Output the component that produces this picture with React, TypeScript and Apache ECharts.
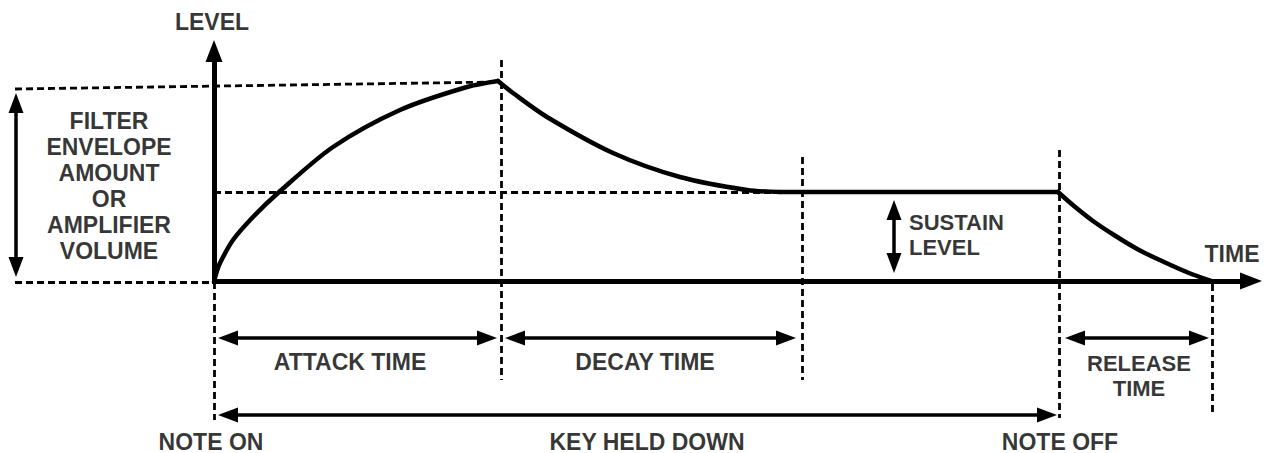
import React, { useEffect, useRef } from "react";
import * as echarts from "echarts";

// Envelope shape (time units, level units)
const attackCurve = [[0, 0], [2, 8], [6, 19], [19, 42], [39, 65], [64, 89], [119, 135], [186, 172], [253, 195], [284, 201]];
const decayCurve = [[284, 201], [299, 189], [333, 165], [399, 129], [466, 105], [533, 92], [566, 90]];
const sustainLine = [[566, 90], [844, 90]];
const releaseCurve = [[844, 90], [860, 76], [879, 61], [900, 47], [925, 32], [950, 20], [975, 9], [997, 1]];

// Dashed guide segments
const guideLines = [
  [[-199, 193], [283, 200]],
  [[-199, 0], [0, 0]],
  [[0, 90], [561, 90]],
  [[0, 0], [0, -138]],
  [[287, 222], [287, -98]],
  [[588, 125], [588, -98]],
  [[845, 132], [845, -136]],
  [[998, -2], [998, -133]],
];

// Axis arrows
const axisArrows = [
  [[0, -2], [0, 231]],
  [[-2, 1], [1037, 1]],
];

// Double-headed span arrows
const spanArrows = [
  [[-198, 179], [-198, 15]],
  [[680, 72], [680, 19]],
  [[14, -56], [273, -56]],
  [[301, -56], [572, -56]],
  [[861, -56], [985, -56]],
  [[14, -133], [833, -133]],
];

// Text labels
const labels = [
  { text: "LEVEL", at: [-2, 260], align: "center", lh: 23, fs: 23 },
  { text: "FILTER\nENVELOPE\nAMOUNT\nOR\nAMPLIFIER\nVOLUME", at: [-105, 96], align: "center", lh: 26, fs: 23 },
  { text: "SUSTAIN\nLEVEL", at: [695, 47.5], align: "left", lh: 25, fs: 22 },
  { text: "TIME", at: [1018, 28], align: "center", lh: 23, fs: 23 },
  { text: "ATTACK TIME", at: [136, -80], align: "center", lh: 23, fs: 23 },
  { text: "DECAY TIME", at: [431, -80], align: "center", lh: 23, fs: 23 },
  { text: "RELEASE\nTIME", at: [925, -94], align: "center", lh: 25, fs: 22 },
  { text: "NOTE ON", at: [-3, -159.5], align: "center", lh: 20, fs: 23 },
  { text: "KEY HELD DOWN", at: [433, -159.5], align: "center", lh: 20, fs: 23 },
  { text: "NOTE OFF", at: [846, -159.5], align: "center", lh: 20, fs: 23 },
];

const FONT = '"Liberation Sans", Arial, Helvetica, sans-serif';

export default function App() {
  const ref = useRef<HTMLDivElement>(null);
  useEffect(() => {
    if (!ref.current) return;
    const chart = echarts.init(ref.current, undefined, { renderer: "svg" });
    const envelopeSeries = (data: number[][], smooth: boolean | number) => ({
      type: "line",
      data,
      smooth,
      symbol: "none",
      silent: true,
      z: 5,
      lineStyle: { color: "#000", width: 4.5, cap: "round", join: "round" },
    });
    chart.setOption({
      animation: false,
      backgroundColor: "#fff",
      grid: { left: 0, right: 0, top: 0, bottom: 0 },
      xAxis: { type: "value", min: -214, max: 1055, show: false },
      yAxis: { type: "value", min: -171, max: 282, show: false },
      series: [
        {
          type: "lines",
          coordinateSystem: "cartesian2d",
          silent: true,
          z: 1,
          symbol: ["none", "none"],
          lineStyle: { color: "#000", width: 2.8, type: [7, 4], opacity: 1, curveness: 0 },
          data: guideLines.map((c) => ({ coords: c })),
        },
        {
          type: "lines",
          coordinateSystem: "cartesian2d",
          silent: true,
          z: 4,
          symbol: ["none", "triangle"],
          symbolSize: [[17, 22], [17, 22]],
          lineStyle: { color: "#000", width: 5, opacity: 1, curveness: 0 },
          data: axisArrows.map((c) => ({ coords: c })),
        },
        {
          type: "lines",
          coordinateSystem: "cartesian2d",
          silent: true,
          z: 4,
          symbol: ["triangle", "triangle"],
          symbolSize: [[15, 20], [15, 20]],
          lineStyle: { color: "#000", width: 3.5, opacity: 1, curveness: 0 },
          data: spanArrows.map((c) => ({ coords: c })),
        },
        envelopeSeries(attackCurve, 0.3),
        envelopeSeries(decayCurve, 0.3),
        envelopeSeries(sustainLine, false),
        envelopeSeries(releaseCurve, 0.3),
        {
          type: "scatter",
          silent: true,
          symbol: "circle",
          symbolSize: 1,
          itemStyle: { color: "rgba(0,0,0,0)" },
          z: 6,
          data: labels.map((l) => ({
            value: l.at,
            label: {
              show: true,
              position: "inside",
              formatter: l.text,
              align: l.align,
              verticalAlign: "middle",
              lineHeight: l.lh,
              fontSize: l.fs,
              fontWeight: "bold",
              fontFamily: FONT,
              color: "#000",
            },
          })),
        },
      ],
    });
    return () => chart.dispose();
  }, []);
  return (
    <div
      ref={ref}
      style={{ position: "absolute", left: 0, top: 0, width: 1269, height: 453, background: "#fff" }}
    />
  );
}
